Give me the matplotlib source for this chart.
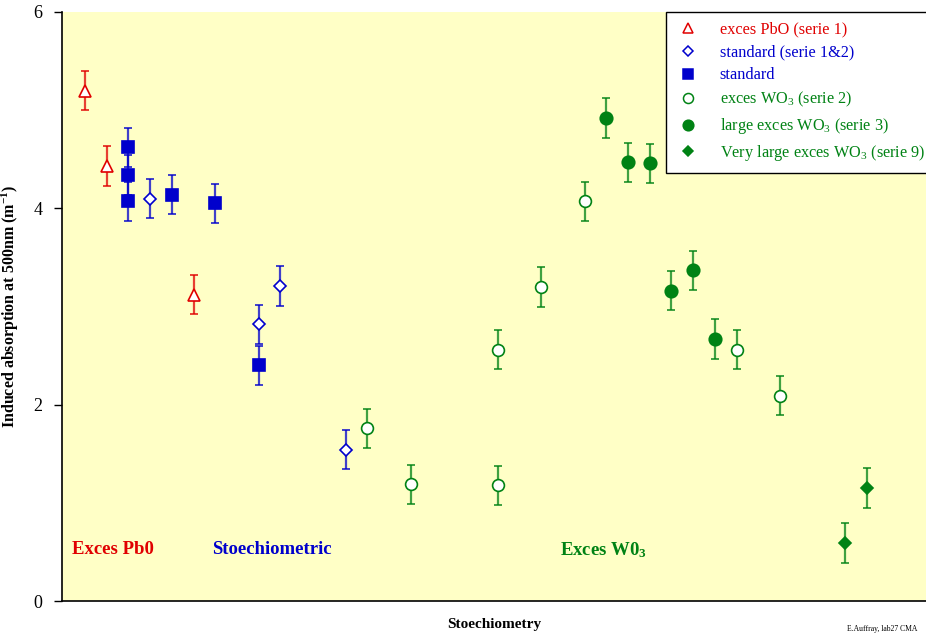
import matplotlib
matplotlib.use("Agg")
import matplotlib.pyplot as plt

plt.rcParams['font.family'] = ['Liberation Serif', 'DejaVu Serif']
plt.rcParams['mathtext.fontset'] = 'custom'
plt.rcParams['mathtext.rm'] = 'Liberation Serif'
plt.rcParams['mathtext.it'] = 'Liberation Serif:italic'
plt.rcParams['mathtext.bf'] = 'Liberation Serif:bold'

# ---- data (x = sample slot along the stoichiometry axis) ----
pbo_x = [1, 2, 6]
pbo_y = [5.20, 4.43, 3.12]
pbo_err = [0.2, 0.2, 0.2]

std12_x = [4, 9, 10, 13]
std12_y = [4.10, 2.82, 3.21, 1.54]
std12_err = [0.2, 0.2, 0.2, 0.2]

std_x = [3, 3, 3, 5, 7, 9]
std_y = [4.62, 4.34, 4.07, 4.14, 4.05, 2.40]
std_err = [0.2, 0.2, 0.2, 0.2, 0.2, 0.2]

wo3_x = [14, 16, 20, 20, 22, 24, 31, 33]
wo3_y = [1.76, 1.19, 2.56, 1.18, 3.20, 4.07, 2.56, 2.09]
wo3_err = [0.2] * 8

lwo3_x = [25, 26, 27, 28, 29, 30]
lwo3_y = [4.92, 4.47, 4.46, 3.16, 3.37, 2.67]
lwo3_err = [0.2] * 6

vlwo3_x = [36, 37]
vlwo3_y = [0.59, 1.15]
vlwo3_err = [0.2, 0.2]

labels = ["exces PbO (serie 1)", "standard (serie 1&2)", "standard",
          "exces WO$_3$ (serie 2)", "large exces WO$_3$ (serie 3)",
          "Very large exces WO$_3$ (serie 9)"]
yticks = [0, 2, 4, 6]

RED = '#E00000'
BLUE = '#0000CC'
GREEN = '#008214'
BG = '#FFFFC6'

fig = plt.figure(figsize=(9.26, 6.33), dpi=100)
ax = fig.add_axes([62 / 926, 1 - 601 / 633, 1 - 62 / 926, (601 - 12) / 633])
ax.set_facecolor(BG)

def series(x, y, e, color, marker, ms, mfc, label):
    ax.errorbar(x, y, yerr=e, fmt='none', ecolor=color, elinewidth=1.6,
                capsize=3, capthick=1.4, alpha=0.75, zorder=2)
    ax.plot(x, y, linestyle='none', marker=marker, ms=ms, mfc=mfc,
            mec=color, mew=1.2, zorder=3)
    return ax.plot([], [], linestyle='none', marker=marker, ms=ms * 0.85,
                   mfc=mfc, mec=color, mew=1.1, label=label)[0]

h = []
h.append(series(pbo_x, pbo_y, pbo_err, RED, '^', 8, 'white', labels[0]))
h.append(series(std12_x, std12_y, std12_err, BLUE, 'D', 6.5, 'white', labels[1]))
h.append(series(std_x, std_y, std_err, BLUE, 's', 9, BLUE, labels[2]))
h.append(series(wo3_x, wo3_y, wo3_err, GREEN, 'o', 8.5, 'white', labels[3]))
h.append(series(lwo3_x, lwo3_y, lwo3_err, GREEN, 'o', 9, GREEN, labels[4]))
h.append(series(vlwo3_x, vlwo3_y, vlwo3_err, GREEN, 'D', 6.5, GREEN, labels[5]))

ax.set_xlim(-0.06, 39.72)
ax.set_ylim(0, 6)
ax.set_yticks(yticks)
ax.set_yticklabels([str(t) for t in yticks], fontsize=13)
ax.set_xticks([])
ax.tick_params(axis='y', direction='out', length=6, width=1, pad=8)
for s in ['top', 'right']:
    ax.spines[s].set_visible(False)
ax.spines['left'].set_linewidth(1.2)
ax.spines['bottom'].set_linewidth(1.2)

ax.set_ylabel("Induced absorption at 500nm (m$^{\\mathbf{-1}}$)",
              fontsize=11.5, fontweight='bold', labelpad=9)
ax.set_xlabel("Stoechiometry", fontsize=11, fontweight='bold', labelpad=12)

ax.text(0.40, 0.52, "Exces Pb0", color=RED, fontsize=13.5, fontweight='bold', va='center')
ax.text(6.85, 0.52, "Stoechiometric", color=BLUE, fontsize=13.5, fontweight='bold', va='center')
ax.text(22.87, 0.52, "Exces W0$_{\\mathbf{3}}$", color=GREEN, fontsize=13.5,
        fontweight='bold', va='center')

leg = ax.legend(handles=h, loc='upper left',
                bbox_to_anchor=(666 / 926, 1 - 12 / 633), bbox_transform=fig.transFigure,
                fontsize=11.7, frameon=True, fancybox=False, framealpha=1,
                edgecolor='black', borderpad=0.6, labelspacing=0.42,
                handletextpad=1.2, handlelength=1.5, borderaxespad=0)
leg.get_frame().set_linewidth(1.0)
cols = [RED, BLUE, BLUE, GREEN, GREEN, GREEN]
for t, c in zip(leg.get_texts(), cols):
    t.set_color(c)

fig.text(917 / 926, 1 - 629 / 633, "E.Auffray, lab27 CMA", fontsize=5.5,
         ha='right', va='center')

fig.savefig("out.png", dpi=100, facecolor='white')
